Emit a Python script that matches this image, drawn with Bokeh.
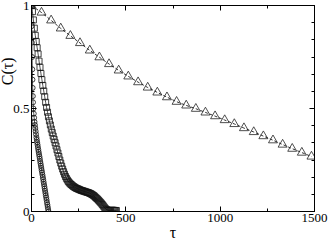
from bokeh.plotting import figure
from bokeh.models import FixedTicker, LinearAxis, Title, Range1d
from bokeh.embed import file_html
from bokeh.resources import INLINE

# ---- data ----
circ_tau = [0, 1, 2, 3, 4, 5, 6, 7, 8, 10, 12, 14, 16, 18, 20, 22, 24, 26, 28, 30,
            32, 34, 36, 38, 40, 42, 44, 46, 48, 50, 52, 54, 56, 58, 60, 62, 64, 66,
            68, 70, 72, 74, 76, 78, 80, 82, 84, 86, 88, 90]
circ_c = [1.0, 0.9, 0.82, 0.75, 0.69, 0.64, 0.6, 0.56, 0.53, 0.5, 0.475, 0.455, 0.435,
          0.42, 0.405, 0.39, 0.375, 0.36, 0.348, 0.336, 0.324, 0.312, 0.3, 0.289, 0.278,
          0.267, 0.256, 0.244, 0.233, 0.222, 0.211, 0.2, 0.189, 0.178, 0.167, 0.156,
          0.144, 0.133, 0.122, 0.111, 0.1, 0.089, 0.078, 0.067, 0.056, 0.044, 0.033,
          0.022, 0.011, 0.0]

sq_tau = [0, 5, 10, 15, 20, 25, 30, 35, 40, 45, 50, 55, 60, 65, 70, 75, 80, 85, 90, 95,
          100, 105, 110, 115, 120, 125, 130, 135, 140, 145, 150, 155, 160, 165, 170, 175,
          180, 185, 190, 195, 200, 205, 210, 215, 220, 225, 230, 235, 240, 245, 250, 255,
          260, 265, 270, 275, 280, 285, 290, 295, 300, 305, 310, 315, 320, 325, 330, 335,
          340, 345, 350, 355, 360, 365, 370, 375, 380, 385, 390, 395, 400, 405, 410, 415,
          420, 425, 430, 435, 440, 445, 450]
sq_c = [1.0, 0.97, 0.93, 0.89, 0.855, 0.825, 0.795, 0.765, 0.73, 0.7, 0.67, 0.64, 0.612,
        0.585, 0.557, 0.53, 0.505, 0.482, 0.46, 0.44, 0.42, 0.4, 0.383, 0.366, 0.35, 0.334,
        0.318, 0.3, 0.284, 0.267, 0.25, 0.235, 0.22, 0.206, 0.193, 0.181, 0.17, 0.161,
        0.153, 0.146, 0.14, 0.135, 0.131, 0.127, 0.123, 0.12, 0.117, 0.114, 0.112, 0.11,
        0.108, 0.106, 0.104, 0.102, 0.101, 0.099, 0.098, 0.096, 0.095, 0.093, 0.092, 0.09,
        0.088, 0.086, 0.083, 0.08, 0.077, 0.073, 0.068, 0.064, 0.06, 0.055, 0.05, 0.045,
        0.04, 0.034, 0.028, 0.022, 0.016, 0.011, 0.008, 0.006, 0.005, 0.005, 0.005, 0.006,
        0.006, 0.006, 0.005, 0.005, 0.005]

tri_tau = [0, 53, 104, 155, 206, 257, 309, 360, 411, 462, 513, 565, 616, 667, 718, 769,
           820, 871, 922, 973, 1024, 1075, 1126, 1178, 1229, 1280, 1331, 1382, 1433, 1484]
tri_c = [1.0, 0.966, 0.928, 0.889, 0.853, 0.818, 0.782, 0.749, 0.716, 0.685, 0.656, 0.628,
         0.602, 0.578, 0.555, 0.533, 0.515, 0.499, 0.481, 0.463, 0.444, 0.425, 0.405,
         0.386, 0.366, 0.346, 0.325, 0.305, 0.286, 0.267]

x_ticks = [0, 500, 1000, 1500]
x_minor = [250, 750, 1250]
y_ticks = [0, 0.5, 1]
y_tick_labels = ["0", "0.5", "1"]
y_minor = [i / 12 for i in range(13)]

FONT = "Liberation Serif"

p = figure(width=328, height=243,
           x_range=Range1d(0, 1500), y_range=Range1d(0, 1),
           output_backend="svg", toolbar_location=None,
           min_border_left=31, min_border_right=14, min_border_top=5,
           min_border_bottom=30)
p.xgrid.visible = False
p.ygrid.visible = False
p.outline_line_color = "black"
p.outline_line_width = 1
p.background_fill_color = "white"
p.border_fill_color = "white"


def style_axis(ax, labels=True):
    ax.major_tick_in = 5
    ax.major_tick_out = 0
    ax.minor_tick_in = 3
    ax.minor_tick_out = 0
    ax.axis_line_color = "black"
    ax.major_tick_line_color = "black"
    ax.minor_tick_line_color = "black"
    ax.major_label_text_font = FONT
    ax.major_label_text_font_size = "13px"
    ax.major_label_text_color = "black" if labels else None
    ax.major_label_standoff = 2 if labels else 0


p.xaxis.ticker = FixedTicker(ticks=x_ticks, minor_ticks=x_minor)
p.yaxis.ticker = FixedTicker(ticks=y_ticks, minor_ticks=y_minor)
p.yaxis.major_label_overrides = {t: l for t, l in zip(y_ticks, y_tick_labels)}
style_axis(p.xaxis[0])
style_axis(p.yaxis[0])
p.xaxis.axis_label = "τ"
p.xaxis.axis_label_text_font = FONT
p.xaxis.axis_label_text_font_size = "16px"
p.xaxis.axis_label_text_font_style = "normal"
p.xaxis.axis_label_text_color = "black"
p.xaxis.axis_label_standoff = -1

top = LinearAxis(ticker=FixedTicker(ticks=x_ticks, minor_ticks=x_minor),
                 major_label_overrides={t: "" for t in x_ticks})
style_axis(top, labels=False)
p.add_layout(top, "above")
right = LinearAxis(ticker=FixedTicker(ticks=y_ticks, minor_ticks=y_minor),
                   major_label_overrides={t: "" for t in y_ticks})
style_axis(right, labels=False)
p.add_layout(right, "right")

ytitle = Title(text="C(τ)", align="right", offset=52, standoff=-10,
               text_font=FONT, text_font_size="16px", text_font_style="normal",
               text_color="black")
p.add_layout(ytitle, "left")

# series
p.line(tri_tau, tri_c, line_color="black", line_width=0.8, line_dash="3 2")
p.scatter(tri_tau, tri_c, marker="triangle", size=9, fill_color=None,
          line_color="#222222", line_width=0.8)

p.line(sq_tau, sq_c, line_color="black", line_width=0.7)
p.scatter(sq_tau, sq_c, marker="square", size=6, fill_color=None,
          line_color="#111111", line_width=0.8)

p.line(circ_tau, circ_c, line_color="black", line_width=0.7)
p.scatter(circ_tau, circ_c, marker="circle", size=5, fill_color=None,
          line_color="#111111", line_width=0.8)

open("out.html", "w").write(file_html(p, INLINE))
